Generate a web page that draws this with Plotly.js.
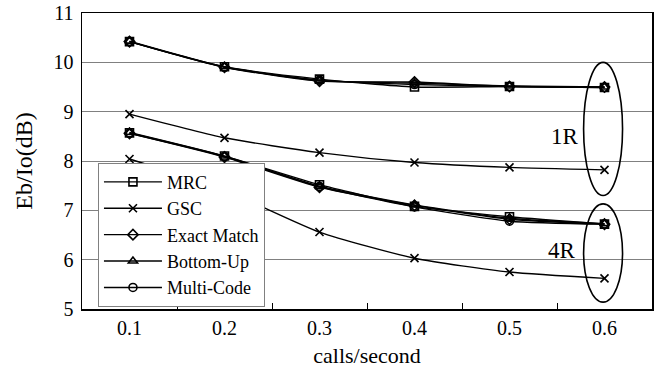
<!DOCTYPE html>
<html><head><meta charset="utf-8">
<script src="https://cdn.plot.ly/plotly-3.0.1.min.js"></script>
<style>html,body{margin:0;padding:0;background:#fff}#chart{width:657px;height:370px}</style>
</head><body><div id="chart"></div>
<script>
const categories = ["0.1","0.2","0.3","0.4","0.5","0.6"];
const seriesNames = ["MRC","GSC","Exact Match","Bottom-Up","Multi-Code"];
const symbols = ["square-open","x-thin-open","diamond-open","triangle-up-open","circle-open"];
// 1R group
const mrc1R   = [10.42, 9.91, 9.66, 9.50, 9.51, 9.49];
const gsc1R   = [8.95, 8.47, 8.17, 7.97, 7.87, 7.82];
const exact1R = [10.42, 9.90, 9.62, 9.60, 9.51, 9.50];
const bottom1R= [10.43, 9.91, 9.63, 9.58, 9.52, 9.50];
const multi1R = [10.42, 9.90, 9.64, 9.55, 9.51, 9.49];
// 4R group
const mrc4R   = [8.57, 8.10, 7.52, 7.08, 6.87, 6.72];
const gsc4R   = [8.04, 7.41, 6.56, 6.03, 5.75, 5.62];
const exact4R = [8.56, 8.08, 7.47, 7.10, 6.82, 6.72];
const bottom4R= [8.58, 8.10, 7.49, 7.11, 6.84, 6.73];
const multi4R = [8.56, 8.09, 7.48, 7.07, 6.78, 6.72];
const groupLabels = ["1R","4R"];

const data1R = [mrc1R, gsc1R, exact1R, bottom1R, multi1R];
const data4R = [mrc4R, gsc4R, exact4R, bottom4R, multi4R];

const traces = [];
seriesNames.forEach((name, i) => {
  [data1R[i], data4R[i]].forEach((ys, g) => {
    traces.push({
      x: categories, y: ys, name: name, legendgroup: name,
      showlegend: g === 0, type: "scatter", mode: "lines+markers",
      line: {color: "#000", width: 1.4, shape: "spline", smoothing: 0.6},
      marker: {symbol: symbols[i], size: 8, color: "#000", line: {color: "#000", width: 1.6}}
    });
  });
});

const FONT = "'Liberation Serif', 'Times New Roman', serif";
const layout = {
  width: 657, height: 370,
  margin: {l: 82, r: 5, t: 13, b: 61},
  paper_bgcolor: "#fff", plot_bgcolor: "#fff",
  font: {family: FONT, color: "#000", size: 20},
  xaxis: {
    type: "category", range: [-0.5, 5.5],
    showline: true, linecolor: "#000", linewidth: 1.5, mirror: true,
    ticks: "inside", tickson: "boundaries", ticklen: 6, tickcolor: "#000",
    showgrid: false, zeroline: false,
    tickfont: {family: FONT, size: 20},
    title: {text: "calls/second", font: {family: FONT, size: 22}, standoff: 10}
  },
  yaxis: {
    range: [5, 11], dtick: 1,
    showline: true, linecolor: "#000", linewidth: 1.5, mirror: true,
    showgrid: true, gridcolor: "#808080", gridwidth: 1, zeroline: false,
    ticks: "", tickfont: {family: FONT, size: 20}, ticklabelstandoff: 3,
    title: {text: "Eb/Io(dB)", font: {family: FONT, size: 24}, standoff: 14}
  },
  legend: {
    x: 0.028, y: 0.008, xanchor: "left", yanchor: "bottom",
    bgcolor: "#fff", bordercolor: "#808080", borderwidth: 1,
    font: {family: FONT, size: 18}, tracegroupgap: 0, itemwidth: 58
  },
  shapes: [
    {type: "circle", xref: "x", yref: "y", x0: 4.78, x1: 5.19, y0: 7.3, y1: 10.0, line: {color: "#000", width: 1.6}},
    {type: "circle", xref: "x", yref: "y", x0: 4.78, x1: 5.19, y0: 5.14, y1: 7.13, line: {color: "#000", width: 1.6}}
  ],
  annotations: [
    {x: 4.58, y: 8.49, xref: "x", yref: "y", text: groupLabels[0], showarrow: false, font: {family: FONT, size: 23}},
    {x: 4.55, y: 6.19, xref: "x", yref: "y", text: groupLabels[1], showarrow: false, font: {family: FONT, size: 23}}
  ]
};
Plotly.newPlot("chart", traces, layout, {displayModeBar: false, staticPlot: true});
</script></body></html>
